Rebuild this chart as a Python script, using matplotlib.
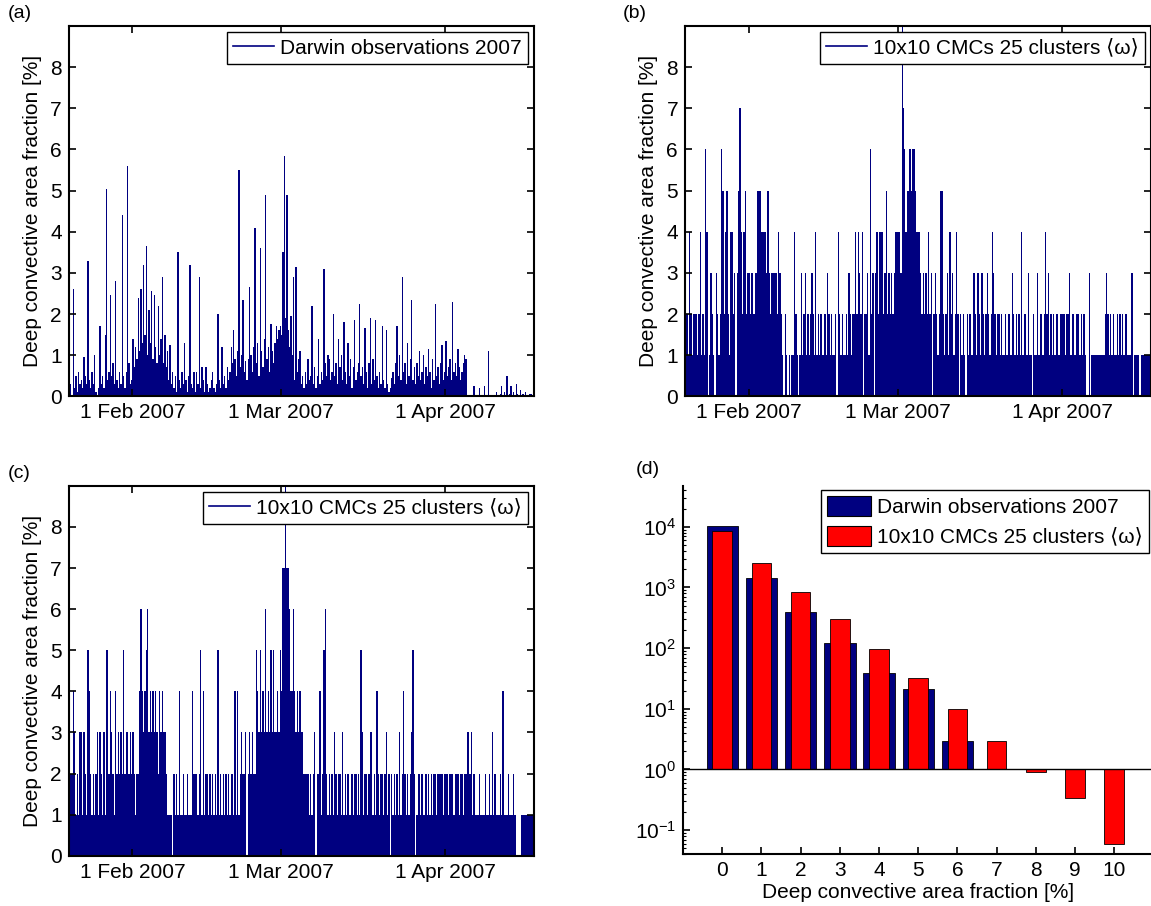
import numpy as np
import matplotlib
matplotlib.use("Agg")
import matplotlib.pyplot as plt
import matplotlib.dates as mdates
from matplotlib.lines import Line2D
from matplotlib.patches import Patch
from matplotlib.ticker import LogLocator, FixedLocator, NullFormatter

plt.rcParams['font.family'] = ['Liberation Sans', 'DejaVu Sans']
plt.rcParams['mathtext.fontset'] = 'custom'
plt.rcParams['mathtext.rm'] = 'Liberation Sans'

# ---- data (6-hourly peak values, starting 20 Jan 2007) ----
START = '2007-01-20'
END = '2007-04-17T17:00'
TICK_DATES = ['2007-02-01', '2007-03-01', '2007-04-01']
TICK_LABELS = ['1 Feb 2007', '1 Mar 2007', '1 Apr 2007']

DARWIN_OBS = [
    0.1, 0.3, 0.0, 2.6, 0.2, 0.5, 0.1, 0.6, 0.3, 0.4, 0.2, 0.95, 0.5, 0.3, 3.3, 0.4,
    0.2, 0.6, 0.3, 1.0, 0.1, 0.0, 0.2, 1.7, 0.3, 0.5, 0.2, 1.5, 5.05, 0.4, 0.6, 2.45,
    0.5, 0.8, 0.3, 2.8, 0.4, 0.2, 0.6, 0.3, 4.4, 0.5, 0.2, 0.6, 5.6, 0.8, 0.3, 0.4,
    1.4, 0.7, 1.2, 0.9, 2.4, 1.1, 2.6, 1.3, 3.2, 1.5, 3.65, 1.0, 2.1, 1.3, 2.55, 0.9,
    2.45, 1.2, 0.8, 2.2, 1.0, 1.4, 2.9, 0.8, 1.5, 0.7, 1.1, 0.4, 1.25, 0.3, 0.6, 0.2,
    0.5, 0.1, 3.5, 0.4, 0.2, 0.6, 0.3, 1.3, 0.4, 0.1, 0.5, 3.2, 0.3, 0.2, 0.6, 0.1,
    0.6, 0.3, 2.9, 0.2, 0.7, 0.4, 0.1, 0.7, 0.3, 0.1, 0.2, 0.4, 0.6, 0.2, 0.1, 0.3,
    2.0, 0.4, 0.2, 1.2, 0.3, 0.5, 0.2, 0.7, 0.4, 0.6, 1.2, 0.8, 1.6, 0.9, 0.5, 1.1,
    5.5, 0.7, 1.0, 2.35, 0.6, 0.85, 0.4, 0.9, 2.65, 1.0, 0.6, 1.2, 4.1, 0.8, 1.3, 0.5,
    3.6, 1.1, 0.7, 1.4, 4.9, 0.9, 1.2, 0.6, 1.75, 1.1, 0.8, 1.3, 1.7, 1.4, 1.6, 1.7,
    1.5, 3.5, 5.85, 1.9, 4.9, 1.6, 1.2, 1.95, 1.0, 2.9, 0.4, 3.15, 0.6, 0.9, 1.1, 0.3,
    0.5, 0.2, 0.6, 0.3, 0.9, 0.4, 0.5, 2.2, 0.3, 0.7, 0.2, 0.5, 1.4, 0.3, 0.6, 0.4,
    3.1, 0.8, 0.5, 1.0, 0.9, 0.4, 0.6, 2.0, 0.5, 0.8, 0.3, 1.4, 0.7, 1.0, 0.4, 1.8,
    0.6, 0.3, 1.3, 0.5, 0.9, 0.2, 0.7, 1.85, 0.4, 0.6, 0.8, 2.25, 0.5, 0.7, 0.3, 1.65,
    0.6, 0.2, 0.8, 1.9, 0.3, 0.9, 0.4, 1.85, 0.5, 0.2, 0.6, 0.3, 1.7, 0.4, 0.2, 1.6,
    0.3, 0.1, 0.2, 0.45, 0.6, 0.3, 0.8, 1.7, 0.5, 1.0, 0.4, 2.9, 0.6, 0.8, 0.3, 1.3,
    0.5, 0.9, 2.35, 0.4, 0.7, 0.3, 0.8, 0.5, 1.1, 0.4, 0.6, 1.0, 0.3, 0.7, 0.5, 1.15,
    0.6, 0.2, 0.9, 0.4, 2.25, 0.5, 0.7, 0.3, 0.8, 1.25, 0.4, 0.6, 1.35, 0.5, 0.7, 0.9,
    0.4, 2.3, 0.6, 0.8, 0.5, 1.15, 0.7, 0.4, 0.6, 0.8, 1.0, 0.9, 0.0, 0.0, 0.0, 0.0,
    0.0, 0.25, 0.0, 0.0, 0.0, 0.2, 0.0, 0.0, 0.0, 0.25, 0.0, 0.0, 1.1, 0.0, 0.0, 0.0,
    0.0, 0.0, 0.1, 0.0, 0.0, 0.05, 0.25, 0.0, 0.1, 0.0, 0.5, 0.0, 0.05, 0.25, 0.0, 0.1,
    0.0, 0.3, 0.05, 0.0, 0.15, 0.0, 0.05, 0.0, 0.1, 0.0, 0.0, 0.05, 0.05, 0.0, 0.1, 0.1,
]

CMC_B = (
    "12142122212412164013210321265245"
    "21442303574245233232235554444353"
    "23333243210210101142101312312123"
    "21412121121321211204212112132122"
    "42432402231623034244423523232344"
    "44397645565665444323232423023212"
    "55212314231242021210212113213213"
    "21232124321221211212213212121412"
    "21311021131221242312121221222212"
    "23122122212121003011111111112321"
    "21211212121221113011110111111112"
)

CMC_C = (
    "12243121331321542121231321315524"
    "32142323252332323212246434563434"
    "34324343321111021214112112111422"
    "21251412212121215121212121221414"
    "12322302323225435343634353533435"
    "47797764464343433222212123022412"
    "56212121321221312121121221215312"
    "21233121421221231202121213124212"
    "12352012212112121212212222122212"
    "22122212212233231211121111211213"
    "12111214111211121000011111111112"
)

HIST_BINS = [0, 1, 2, 3, 4, 5, 6, 7, 8, 9, 10]
HIST_DARWIN = [10200, 1440, 400, 122, 39, 21, 3, 0, 0, 0, 0]
HIST_CMC = [8500, 2550, 835, 297, 98, 32, 10, 3, 0.92, 0.34, 0.06]

LABEL_OBS = 'Darwin observations 2007'
LABEL_CMC = '10x10 CMCs 25 clusters \u27e8\u03c9\u27e9'
YLABEL = 'Deep convective area fraction [%]'

NAVY = '#000080'
RED = '#ff0000'
FS = 15

W, H = 1151, 906
fig = plt.figure(figsize=(W / 100, H / 100), dpi=100)


def px_axes(x0, y0, x1, y1):
    return fig.add_axes([x0 / W, 1 - y1 / H, (x1 - x0) / W, (y1 - y0) / H])


def series_panel(ax, vals, label):
    vals = np.asarray(vals, dtype=float)
    edges = np.datetime64(START) + np.arange(len(vals) + 1) * np.timedelta64(6, 'h')
    ax.stairs(vals, mdates.date2num(edges), fill=True, color=NAVY, lw=0)
    ax.set_xlim(mdates.date2num(np.datetime64(START)), mdates.date2num(np.datetime64(END)))
    ax.xaxis_date()
    ax.set_ylim(0, 9)
    ax.set_yticks(range(9))
    ax.set_xticks([mdates.date2num(np.datetime64(d)) for d in TICK_DATES])
    ax.set_xticklabels(TICK_LABELS)
    ax.tick_params(direction='in', top=True, right=True, length=5, width=1.2,
                   labelsize=FS, pad=5)
    for s in ax.spines.values():
        s.set_linewidth(1.5)
    ax.set_ylabel(YLABEL, fontsize=FS, labelpad=6)
    leg = ax.legend([Line2D([], [], color=NAVY, lw=1.2)], [label], loc='upper right',
                    fontsize=FS, fancybox=False, framealpha=1, edgecolor='k',
                    borderpad=0.3, handlelength=1.95, handletextpad=0.3,
                    borderaxespad=0.3)
    leg.get_frame().set_linewidth(1.0)


ax_a = px_axes(68.7, 26, 534, 396.3)
series_panel(ax_a, DARWIN_OBS, LABEL_OBS)

ax_b = px_axes(685, 26, 1151, 396.3)
series_panel(ax_b, [int(c) for c in CMC_B], LABEL_CMC)

ax_c = px_axes(68.7, 485.8, 534, 855.7)
series_panel(ax_c, [int(c) for c in CMC_C], LABEL_CMC)

# ---- (d) histogram on log axis, bars from baseline 1 ----
ax_d = px_axes(683, 486, 1153.5, 854.3)
bins = np.array(HIST_BINS)
obs = np.array(HIST_DARWIN, dtype=float)
cmc = np.array(HIST_CMC, dtype=float)
mo = obs > 0
mc = cmc > 0
ax_d.bar(bins[mo], obs[mo] - 1, bottom=1, width=0.8, color=NAVY, edgecolor='k',
         lw=0.6, label=LABEL_OBS)
ax_d.bar(bins[mc], cmc[mc] - 1, bottom=1, width=0.5, color=RED, edgecolor='k',
         lw=0.6, label=LABEL_CMC)
ax_d.set_yscale('log')
ax_d.set_ylim(0.04, 4.7e4)
ax_d.set_xlim(-1, 11)
ax_d.axhline(1, color='k', lw=1.0)
ax_d.set_xticks(HIST_BINS)
ax_d.yaxis.set_major_locator(FixedLocator([0.1, 1, 10, 100, 1000, 10000]))
ax_d.set_yticklabels([r'$\mathregular{10^{%d}}$' % e for e in range(-1, 5)])
ax_d.yaxis.set_minor_locator(LogLocator(base=10, subs=np.arange(2, 10)))
ax_d.yaxis.set_minor_formatter(NullFormatter())
ax_d.tick_params(direction='in', length=5, width=1.2, labelsize=FS, pad=5)
ax_d.tick_params(which='minor', direction='in', length=2.5, width=0.8)
ax_d.spines['top'].set_visible(False)
ax_d.spines['right'].set_visible(False)
for s in ('left', 'bottom'):
    ax_d.spines[s].set_linewidth(1.5)
ax_d.set_xlabel(YLABEL, fontsize=FS, labelpad=2)
leg = ax_d.legend(handles=[Patch(facecolor=NAVY, edgecolor='k', lw=0.8),
                           Patch(facecolor=RED, edgecolor='k', lw=0.8)],
                  labels=[LABEL_OBS, LABEL_CMC], loc='upper right',
                  bbox_to_anchor=(1149 / W, 1 - 490 / H), bbox_transform=fig.transFigure,
                  fontsize=FS, fancybox=False, framealpha=1, edgecolor='k',
                  borderpad=0.3, handlelength=2.1, handleheight=1.1,
                  handletextpad=0.3, labelspacing=0.4, borderaxespad=0.0)
leg.get_frame().set_linewidth(1.0)

# panel letters
for x, y, s in [(8, 14, '(a)'), (623, 14, '(b)'), (8, 473, '(c)'), (636, 470, '(d)')]:
    fig.text(x / W, 1 - y / H, s, fontsize=14, ha='left', va='center')

fig.savefig('out.png', dpi=100)
